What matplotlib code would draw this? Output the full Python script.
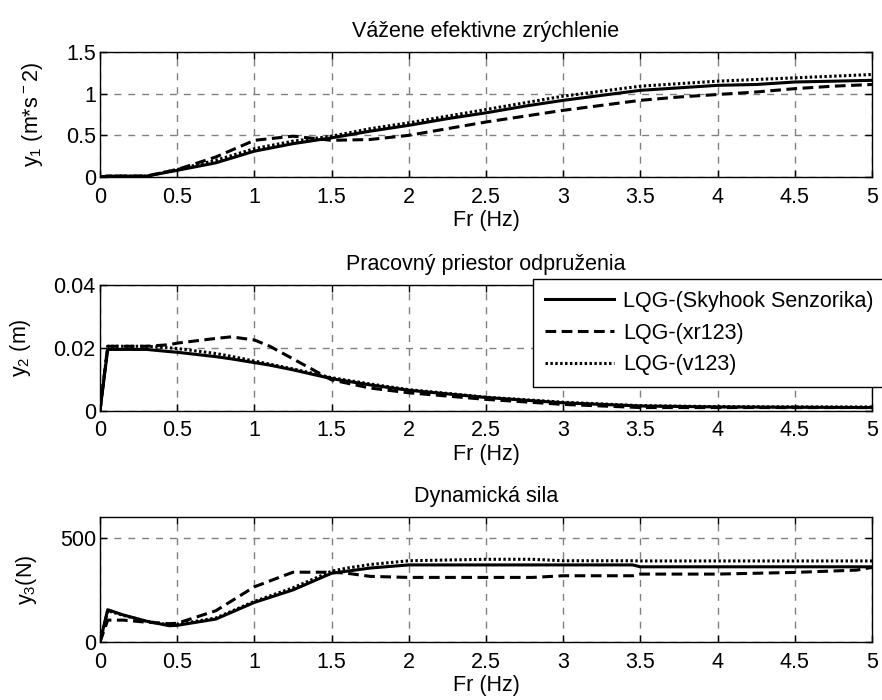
import matplotlib
matplotlib.use("Agg")
import matplotlib.pyplot as plt

plt.rcParams['font.family'] = ['Liberation Sans', 'DejaVu Sans']
plt.rcParams['mathtext.default'] = 'regular'

# ---- data ----
series_names = ["LQG-(Skyhook Senzorika)", "LQG-(xr123)", "LQG-(v123)"]
titles = ["Vážene efektivne zrýchlenie", "Pracovný priestor odpruženia", "Dynamická sila"]
ylabels = ["y$_1$ (m*s$^-$2)", "y$_2$ (m)", "y$_3$(N)"]
xlabel = "Fr (Hz)"

x1 = [0, 0.05, 0.3, 0.5, 0.75, 1.0, 1.25, 1.5, 1.75, 2.0, 2.25, 2.5, 2.75, 3.0, 3.25, 3.5, 3.75, 4.0, 4.25, 4.5, 4.75, 5.0]
y1_sky = [0, 0.01, 0.01, 0.08, 0.17, 0.31, 0.40, 0.47, 0.55, 0.62, 0.70, 0.77, 0.85, 0.92, 0.98, 1.04, 1.07, 1.10, 1.11, 1.14, 1.15, 1.16]
y1_xr = [0, 0.01, 0.01, 0.09, 0.24, 0.44, 0.49, 0.44, 0.45, 0.50, 0.58, 0.66, 0.73, 0.80, 0.86, 0.92, 0.96, 0.99, 1.02, 1.06, 1.09, 1.11]
y1_v = [0, 0.01, 0.01, 0.09, 0.20, 0.34, 0.43, 0.49, 0.58, 0.65, 0.73, 0.81, 0.89, 0.97, 1.03, 1.09, 1.12, 1.15, 1.17, 1.19, 1.21, 1.23]

x2 = [0, 0.05, 0.3, 0.45, 0.5, 0.75, 0.85, 1.0, 1.1, 1.25, 1.5, 1.75, 2.0, 2.5, 3.0, 3.5, 4.0, 4.5, 5.0]
y2_sky = [0, 0.0195, 0.0195, 0.0188, 0.0186, 0.0172, 0.0165, 0.0153, 0.0145, 0.0130, 0.0102, 0.0082, 0.0065, 0.0042, 0.0025, 0.0015, 0.0012, 0.0011, 0.0010]
y2_xr = [0, 0.0205, 0.0205, 0.0210, 0.0215, 0.0230, 0.0235, 0.0225, 0.0205, 0.0165, 0.0098, 0.0072, 0.0057, 0.0036, 0.0020, 0.0010, 0.0010, 0.0010, 0.0010]
y2_v = [0, 0.0205, 0.0205, 0.0200, 0.0198, 0.0182, 0.0173, 0.0158, 0.0148, 0.0133, 0.0105, 0.0085, 0.0067, 0.0043, 0.0027, 0.0016, 0.0013, 0.0012, 0.0012]

x3 = [0, 0.05, 0.15, 0.3, 0.45, 0.5, 0.75, 1.0, 1.25, 1.5, 1.6, 1.75, 2.0, 2.5, 2.8, 3.0, 3.45, 3.5, 4.0, 4.5, 4.9, 5.0]
y3_sky = [0, 155, 130, 100, 78, 80, 110, 190, 250, 330, 340, 355, 370, 370, 370, 370, 370, 361, 361, 361, 361, 361]
y3_xr = [0, 105, 105, 95, 88, 90, 150, 265, 335, 335, 330, 315, 310, 310, 310, 318, 318, 326, 326, 334, 345, 358]
y3_v = [0, 150, 128, 100, 82, 85, 115, 195, 260, 340, 355, 372, 390, 397, 397, 390, 390, 389, 389, 389, 389, 389]

xticks = [0, 0.5, 1, 1.5, 2, 2.5, 3, 3.5, 4, 4.5, 5]
yticks = [[0, 0.5, 1, 1.5], [0, 0.02, 0.04], [0, 500]]
ylims = [(0, 1.5), (0, 0.04), (0, 600)]
ytick_labels = [["0", "0.5", "1", "1.5"], ["0", "0.02", "0.04"], ["0", "500"]]

data = [(x1, [y1_sky, y1_xr, y1_v]), (x2, [y2_sky, y2_xr, y2_v]), (x3, [y3_sky, y3_xr, y3_v])]

# ---- figure ----
W, H = 882, 700
fig = plt.figure(figsize=(W / 100, H / 100), dpi=100)
boxes = [(52, 177), (285, 410.7), (517, 642)]
left, right = 100, 872
styles = [dict(linestyle='-'), dict(linestyle=(0, (3.5, 1.8))), dict(linestyle=(0, (0.8, 0.8)))]
fs = 15.5

axes = []
for i, (top, bot) in enumerate(boxes):
    ax = fig.add_axes([left / W, 1 - bot / H, (right - left) / W, (bot - top) / H])
    xs, ys = data[i]
    lines = []
    for y, st in zip(ys, styles):
        ln, = ax.plot(xs, y, color='black', linewidth=2.2, **st)
        lines.append(ln)
    ax.set_xlim(0, 5)
    ax.set_ylim(*ylims[i])
    ax.set_xticks(xticks)
    ax.set_xticklabels([f"{t:g}" for t in xticks], fontsize=fs)
    ax.set_yticks(yticks[i])
    ax.set_yticklabels(ytick_labels[i], fontsize=fs)
    ax.grid(True, color='#808080', linestyle=(0, (5, 5)), linewidth=1.0)
    ax.tick_params(axis='x', direction='in', top=True, length=5, width=1, pad=7)
    ax.tick_params(axis='y', direction='in', right=True, length=5, width=1, pad=3)
    for sp in ax.spines.values():
        sp.set_linewidth(1.0)
    ax.set_title(titles[i], fontsize=fs, pad=11)
    ax.set_xlabel(xlabel, fontsize=fs, labelpad=2)
    ax.set_ylabel(ylabels[i], fontsize=fs, labelpad=15)
    axes.append((ax, lines))

ax2, lines2 = axes[1]
leg = fig.legend(lines2, series_names, loc='upper left',
                 bbox_to_anchor=(533 / W, 1 - 279 / H), fontsize=fs,
                 frameon=True, fancybox=False, framealpha=1, edgecolor='black',
                 handlelength=3.2, handletextpad=0.45, borderpad=0.55,
                 labelspacing=0.5, borderaxespad=0)
leg.get_frame().set_linewidth(1.0)

fig.savefig("out.png", dpi=100)
